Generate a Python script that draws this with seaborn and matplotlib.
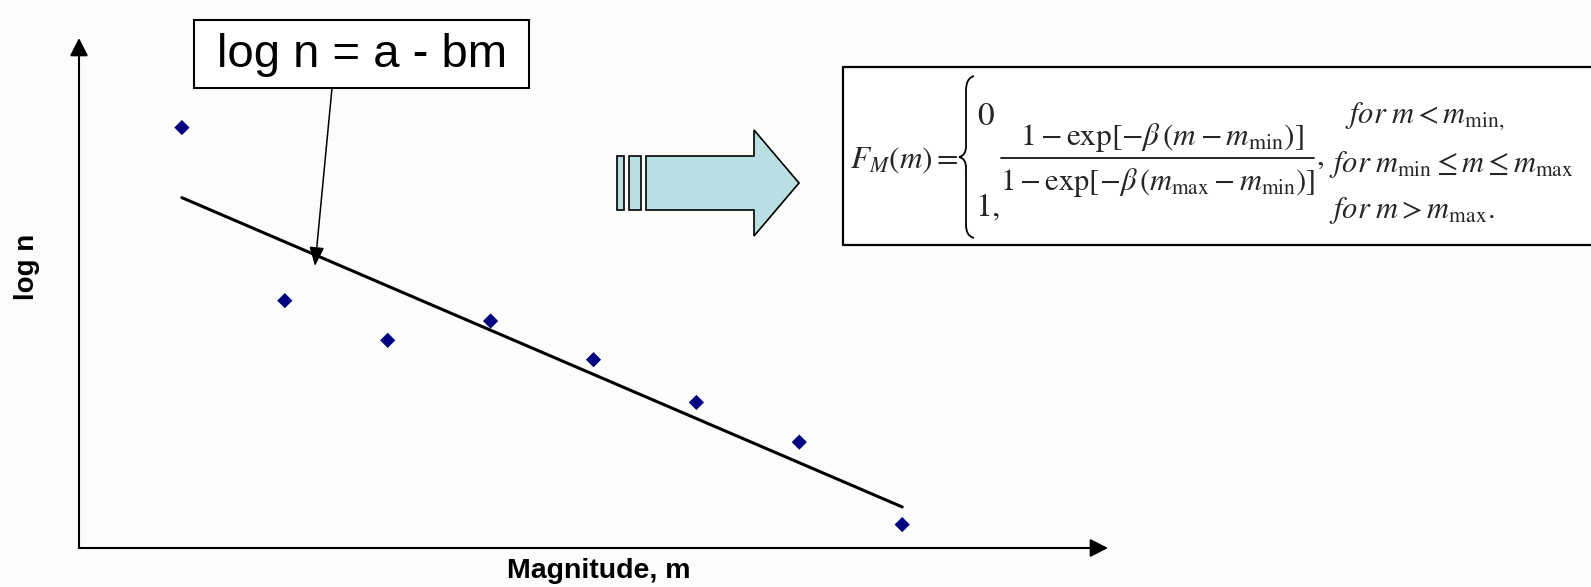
import numpy as np
import pandas as pd
import matplotlib
matplotlib.use("Agg")
import matplotlib.pyplot as plt
import seaborn as sns
from matplotlib.patches import Rectangle, Polygon, PathPatch
from matplotlib.path import Path

# Observed earthquake counts per magnitude bin (log scale)
magnitude = [1, 2, 3, 4, 5, 6, 7, 8]
log_n = [4.09, 2.39, 2.00, 2.19, 1.81, 1.39, 1.00, 0.19]

x_label = "Magnitude, m"
y_label = "log n"
law_label = "log n = a - bm"

sns.set_theme(style="white")
plt.rcParams["font.family"] = ["Liberation Sans", "DejaVu Sans"]
plt.rcParams["mathtext.fontset"] = "stix"

BG = "#fcfcfa"
W, H = 1591, 587
fig = plt.figure(figsize=(W / 100, H / 100), dpi=100, facecolor=BG)

# Gutenberg-Richter plot: axes corner at (79, 548) px, arrows reach 1108 / 38 px
x0, y0, x1, y1 = 79, 548, 1108, 38
ax = fig.add_axes([x0 / W, (H - y0) / H, (x1 - x0) / W, (y0 - y1) / H])
ax.set_facecolor("none")

df = pd.DataFrame({"m": magnitude, "logn": log_n})
sns.regplot(data=df, x="m", y="logn", ci=None, scatter=False, ax=ax,
            line_kws=dict(color="black", lw=2.2))
sns.scatterplot(data=df, x="m", y="logn", marker="D", s=60, color="#000080",
                edgecolor="none", ax=ax, zorder=3, legend=False)
ax.set_xlim(0, 10)
ax.set_ylim(-0.04, 4.97)
ax.set_xticks([])
ax.set_yticks([])
for sp in ax.spines.values():
    sp.set_visible(False)

ax.set_xlabel(x_label, fontsize=20.5, fontweight="bold", color="black")
ax.xaxis.set_label_coords(0.505, -0.019)
ax.set_ylabel(y_label, fontsize=20, fontweight="bold", color="black")
ax.yaxis.set_label_coords(-0.038, 0.552)

# axis arrows
axis_arrow = dict(arrowstyle="-|>,head_length=1.08,head_width=0.55",
                  color="black", lw=1.5, shrinkA=0, shrinkB=0, mutation_scale=10)
ax.annotate("", xy=(0, 1), xytext=(0, 0), xycoords="axes fraction",
            textcoords="axes fraction", arrowprops=axis_arrow)
ax.annotate("", xy=(1, 0), xytext=(0, 0), xycoords="axes fraction",
            textcoords="axes fraction", arrowprops=axis_arrow)

# overlay in pixel coordinates for the annotations
ov = fig.add_axes([0, 0, 1, 1], zorder=5)
ov.set_xlim(0, W)
ov.set_ylim(H, 0)
ov.axis("off")
ov.patch.set_alpha(0)

# law box with pointer to the fitted line
ov.add_patch(Rectangle((194, 20), 335, 68, fc="white", ec="black", lw=1.5))
ov.text(362.5, 67, law_label, fontsize=34, ha="center", va="baseline", color="black")
ov.annotate("", xy=(315, 266), xytext=(332, 88),
            arrowprops=dict(arrowstyle="-|>,head_length=1.15,head_width=0.45",
                            color="black", lw=1.1, shrinkA=0, shrinkB=0,
                            mutation_scale=10))

# block arrow
arrow_fc = "#b9dfe2"
ov.add_patch(Rectangle((617, 156), 7, 54, fc=arrow_fc, ec="black", lw=1.2))
ov.add_patch(Rectangle((629, 156), 12, 54, fc=arrow_fc, ec="black", lw=1.2))
ov.add_patch(Polygon([(646, 156), (754, 156), (754, 130), (799, 183),
                      (754, 236), (754, 210), (646, 210)],
                     closed=True, fc=arrow_fc, ec="black", lw=1.2))

# truncated exponential CDF
ov.add_patch(Rectangle((843, 67), 800, 178, fc="white", ec="black", lw=1.6))
brace = Path(
    [(974, 76), (968, 78), (966, 83), (966, 91),
     (966, 146),
     (966, 152), (964, 156), (959, 157),
     (964, 158), (966, 162), (966, 168),
     (966, 224),
     (966, 232), (968, 236), (974, 238)],
    [Path.MOVETO, Path.CURVE4, Path.CURVE4, Path.CURVE4,
     Path.LINETO,
     Path.CURVE4, Path.CURVE4, Path.CURVE4,
     Path.CURVE4, Path.CURVE4, Path.CURVE4,
     Path.LINETO,
     Path.CURVE4, Path.CURVE4, Path.CURVE4])
ov.add_patch(PathPatch(brace, fc="none", ec="black", lw=1.3))

ov.text(850, 168, r"$F_M(m)=$", fontsize=22.5, ha="left", va="baseline")
ov.text(977, 125, r"$0$", fontsize=24, ha="left", va="baseline")
ov.text(975, 216, r"$1,$", fontsize=24, ha="left", va="baseline")
ov.text(1162, 145, r"$1-\exp[-\beta\,(m-m_{\mathrm{min}})]$", fontsize=22.5,
        ha="center", va="baseline")
ov.plot([1001, 1314], [158, 158], color="black", lw=1.2)
ov.text(1157.5, 190, r"$1-\exp[-\beta\,(m_{\mathrm{max}}-m_{\mathrm{min}})]$",
        fontsize=22, ha="center", va="baseline")
ov.text(1316, 165, r"$,$", fontsize=22, ha="left", va="baseline")
ov.text(1345, 123, r"$for\;m<m_{\mathrm{min,}}$", fontsize=22, ha="left", va="baseline")
ov.text(1329, 172, r"$for\;m_{\mathrm{min}}\leq m\leq m_{\mathrm{max}}$", fontsize=22,
        ha="left", va="baseline")
ov.text(1329, 218, r"$for\;m>m_{\mathrm{max}}.$", fontsize=22, ha="left", va="baseline")

fig.savefig("out.png", dpi=100, facecolor=BG)
